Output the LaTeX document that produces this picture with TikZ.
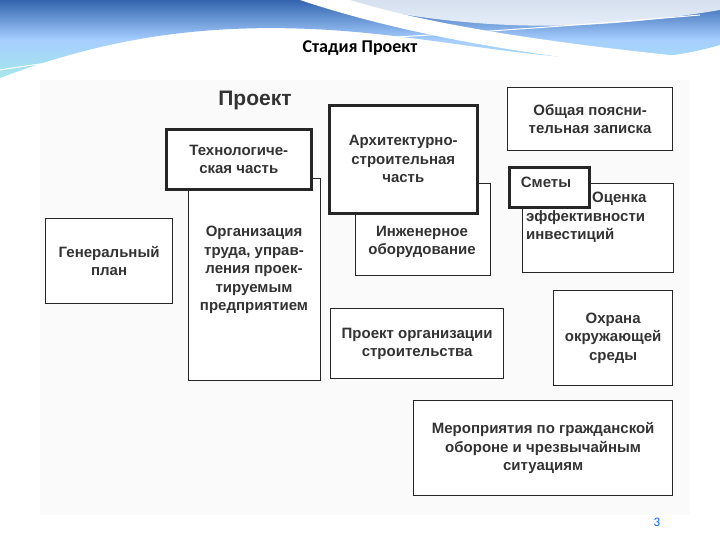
\documentclass[tikz,border=0pt]{standalone}
\usepackage{fontspec}
\setmainfont{Liberation Sans}
\newfontfamily\titlefont{Carlito}
\begin{document}
\begin{tikzpicture}[x=1pt,y=-1pt,
  txt/.style={font=\fontsize{15}{18.5}\selectfont\bfseries,text=black!80,align=center,inner sep=0pt},
  box/.style={draw=black!85,line width=1.3pt,fill=white,txt},
  tbox/.style={box,line width=2.6pt}]
\useasboundingbox (0,0) rectangle (720,540);
\fill[white] (0,0) rectangle (720,540);
% top wave
\shade[top color=cyan!40!blue!60!black!80, bottom color=cyan!50!teal!35, middle color=cyan!45!blue!35] (0,0) -- (720,0) -- (720,45) .. controls (600,80) and (480,40) .. (330,30) .. controls (200,22) and (100,40) .. (0,78) -- cycle;
\fill[white] (300,0) .. controls (420,40) and (560,60) .. (720,75) -- (720,60) .. controls (560,45) and (430,25) .. (350,0) -- cycle;
\fill[white,opacity=0.8] (330,0) .. controls (480,35) and (600,30) .. (720,10) -- (720,0) -- cycle;
\draw[white,line width=1pt] (0,70) .. controls (150,45) and (350,45) .. (700,15);
\node[font=\titlefont\bfseries\fontsize{18}{20}\selectfont] (title) at (360,48) {Стадия Проект};
\fill[black!2] (40,80) rectangle (690,515);
% boxes: back first
\node[box,minimum width=132pt,minimum height=202pt,anchor=north west] (org) at (188,178) {};
\node[txt] (orgt) at (254,270) {Организация\\труда, управ-\\ления проек-\\тируемым\\предприятием};
\node[box,minimum width=135pt,minimum height=92pt,anchor=north west] (ing) at (355,183) {};
\node[txt] (ingt) at (422,242) {Инженерное\\оборудование};
\node[box,minimum width=151pt,minimum height=89pt,anchor=north west] (ots) at (522,183) {};
\node[txt,align=left,anchor=north west] (otst) at (526,192) {\hspace*{4.4em}Оценка\\эффективности\\инвестиций};
\node[tbox,minimum width=145pt,minimum height=60pt,anchor=north west] (tech) at (165,128) {Технологиче-\\ская часть};
\node[tbox,minimum width=148pt,minimum height=108pt,anchor=north west] (arch) at (328,104) {Архитектурно-\\строительная\\часть};
\node[tbox,minimum width=80pt,minimum height=40pt,anchor=north west] (smet) at (508,166) {};
\node[txt] (smett) at (546,182) {Сметы};
\node[box,minimum width=165pt,minimum height=63pt,anchor=north west] (obsh) at (507,87) {Общая поясни-\\тельная записка};
\node[box,minimum width=127pt,minimum height=85pt,anchor=north west] (gen) at (45,218) {Генеральный\\план};
\node[box,minimum width=119pt,minimum height=95pt,anchor=north west] (ohr) at (553,290) {Охрана\\окружающей\\среды};
\node[box,minimum width=173pt,minimum height=70pt,anchor=north west] (pos) at (330,308) {Проект организации\\строительства};
\node[box,minimum width=259pt,minimum height=95pt,anchor=north west] (mer) at (413,400) {Мероприятия по гражданской\\обороне и чрезвычайным\\ситуациям};
\node[font=\fontsize{21}{23}\selectfont\bfseries,text=black!80] (proj) at (255,100) {Проект};
\node[font=\titlefont\fontsize{13}{15}\selectfont,text=blue!60!cyan] (num) at (657,522) {3};
\end{tikzpicture}
\end{document}
